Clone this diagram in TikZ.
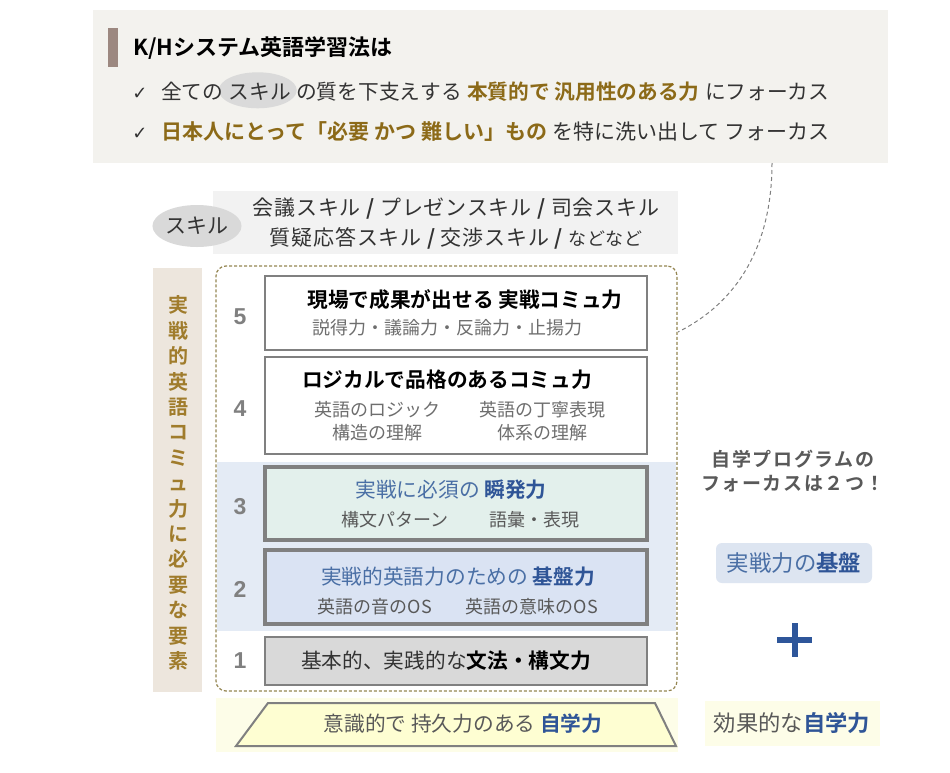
\documentclass[tikz,border=0pt]{standalone}
\usepackage{fontspec}
\setmainfont{Noto Sans CJK JP}[BoldFont={Noto Sans CJK JP Bold}]
\newfontfamily\numfont{Liberation Sans}
\newfontfamily\dv{DejaVu Sans}
\usetikzlibrary{shapes.geometric,calc}
\definecolor{topbg}{HTML}{F3F2EE}
\definecolor{barc}{HTML}{9C8880}
\definecolor{gold}{HTML}{8C6A18}
\definecolor{vgold}{HTML}{A07C2C}
\definecolor{vbg}{HTML}{EDE6DD}
\definecolor{ellg}{HTML}{DADADA}
\definecolor{skbg}{HTML}{F2F2F2}
\definecolor{dashc}{HTML}{958652}
\definecolor{band}{HTML}{E4EBF5}
\definecolor{boxb}{HTML}{808080}
\definecolor{mint}{HTML}{E3F0EC}
\definecolor{lblue}{HTML}{DAE3F3}
\definecolor{lgray}{HTML}{D9D9D9}
\definecolor{bluet}{HTML}{4A6FA5}
\definecolor{dblue}{HTML}{2F5597}
\definecolor{ybg}{HTML}{FDFDE8}
\definecolor{yfill}{HTML}{FEFED2}
\definecolor{txt}{HTML}{333333}
\definecolor{gtxt}{HTML}{595959}
\definecolor{subg}{HTML}{6E6E6E}
\definecolor{rbg}{HTML}{DDE5F1}
\definecolor{plusc}{HTML}{2E569A}
\pgfdeclarelayer{bg}\pgfdeclarelayer{mid}\pgfsetlayers{bg,mid,main}
\newcommand{\fz}{\fontsize{20.7}{25}\selectfont}
\tikzset{
  t/.style={inner sep=0pt, text=txt, font=\fz},
  lvl/.style={draw=boxb, line width=2.5pt},
  lvlb/.style={draw=boxb, line width=3.5pt},
  num/.style={inner sep=0pt, text=boxb, font=\numfont\bfseries\fontsize{23}{26}\selectfont},
  ttl/.style={inner sep=0pt, font=\bfseries\fz, text=black},
  sub/.style={inner sep=0pt, font=\fontsize{18}{23}\selectfont, text=subg, align=center},
  chk/.style={inner sep=0pt, anchor=base, text=txt, font=\dv\fontsize{18}{20}\selectfont},
}
\begin{document}
\begin{tikzpicture}[x=1pt,y=-1pt]
\useasboundingbox (0,0) rectangle (950,772);
% top box
\begin{pgfonlayer}{bg}
\fill[white] (0,0) rectangle (950,772);
\fill[topbg] (93,10) rectangle (888,163);
\fill[barc] (108,28) rectangle (118,67);
\end{pgfonlayer}
\coordinate (tboxs) at (772,163);
\node[inner sep=0pt, anchor=west, font=\bfseries\fontsize{22}{26}\selectfont, text=black] (title) at (133,48) {K/Hシステム英語学習法は};
% line 1
\node[chk] (ck1) at (140,99) {✓};
\node[t, anchor=base west] (l1a) at (161,99) {全ての};
\node[t, anchor=base west, xshift=5] (l1s) at (l1a.base east) {スキル};
\node[t, anchor=base west, xshift=5] (l1b) at (l1s.base east) {の質を下支えする};
\node[t, anchor=base west, xshift=5, text=gold, font=\bfseries\fz] (l1c) at (l1b.base east) {本質的で 汎用性のある力};
\node[t, anchor=base west, xshift=5] (l1d) at (l1c.base east) {にフォーカス};
\begin{pgfonlayer}{mid}
\node[ellipse, fill=ellg, minimum width=78pt, minimum height=36pt, inner sep=0pt] (l1e) at ($(l1s.center)+(-2,-1)$) {};
\end{pgfonlayer}
% line 2
\node[chk] (ck2) at (140,139) {✓};
\node[t, anchor=base west, text=gold, font=\bfseries\fontsize{21}{25}\selectfont] (l2a) at (161,139) {日本人にとって「必要 かつ 難しい」もの};
\node[t, anchor=base west, xshift=5, font=\fontsize{21}{25}\selectfont] (l2b) at (l2a.base east) {を特に洗い出して フォーカス};
% skills
\begin{pgfonlayer}{bg}
\fill[skbg] (213,191) rectangle (678,254);
\end{pgfonlayer}
\node[ellipse, fill=lgray, minimum width=82pt, minimum height=42pt, inner sep=0pt, text=txt, font=\fontsize{21}{25}\selectfont] (skill) at (197,226) {スキル};
\node[t, anchor=center, font=\fontsize{21}{25}\selectfont\addfontfeature{LetterSpace=4}] (sk1) at (456,209) {会議スキル {\bfseries /} プレゼンスキル {\bfseries /} 司会スキル};
\node[t, anchor=center, font=\fontsize{21}{25}\selectfont\addfontfeature{LetterSpace=4}] (sk2) at (456,238) {質疑応答スキル {\bfseries /} 交渉スキル {\bfseries /} {\fontsize{18}{20}\selectfont などなど}};
% vertical label
\fill[vbg] (153,268) rectangle (202,692);
\node[inner sep=0pt, align=center, text=vgold, font=\bfseries\fontsize{20}{25.4}\selectfont] (vlab) at (178,483) {実\\戦\\的\\英\\語\\コ\\ミ\\ュ\\力\\に\\必\\要\\な\\要\\素};
% dashed container
\node[draw=dashc, dashed, dash pattern=on 3pt off 2pt, line width=1.2pt, rounded corners=10pt, fill=white, minimum width=461pt, minimum height=425pt, inner sep=0pt] (cont) at (446.5,478.5) {};
\fill[band] (217,462) rectangle (676,631);
% level 5
\node[lvl, fill=white, minimum width=382pt, minimum height=74pt, inner sep=0pt] (b5) at (456,313) {};
\node[num] (n5) at (240,317) {5};
\node[ttl] (b5t) at (465,300) {現場で成果が出せる 実戦コミュ力};
\node[sub] (b5s) at (447,328) {説得力・議論力・反論力・止揚力};
% level 4
\node[lvl, fill=white, minimum width=382pt, minimum height=97pt, inner sep=0pt] (b4) at (456,405.5) {};
\node[num] (n4) at (240,409) {4};
\node[ttl] (b4t) at (447,380) {ロジカルで品格のあるコミュ力};
\node[sub, font=\fontsize{18}{23}\selectfont] (b4a) at (377,421.5) {英語のロジック\\構造の理解};
\node[sub, font=\fontsize{18}{23}\selectfont] (b4b) at (542,421.5) {英語の丁寧表現\\体系の理解};
% level 3
\node[lvlb, fill=mint, minimum width=382pt, minimum height=73pt, inner sep=0pt] (b3) at (456,503.5) {};
\node[num] (n3) at (240,507) {3};
\node[inner sep=0pt, text=bluet, font=\fz] (b3t) at (451,490) {実戦に必須の {\bfseries\color{dblue}瞬発力}};
\node[sub, text=gtxt] (b3a) at (395,520) {構文パターン};
\node[sub, text=gtxt] (b3b) at (534,520) {語彙・表現};
% level 2
\node[lvlb, fill=lblue, minimum width=382pt, minimum height=74pt, inner sep=0pt] (b2) at (456,587) {};
\node[num] (n2) at (240,589) {2};
\node[inner sep=0pt, text=bluet, font=\fz] (b2t) at (458,577) {実戦的英語力のための {\bfseries\color{dblue}基盤力}};
\node[sub, text=gtxt] (b2a) at (375,607) {英語の音のOS};
\node[sub, text=gtxt] (b2b) at (532,607) {英語の意味のOS};
% level 1
\node[lvl, fill=lgray, minimum width=382pt, minimum height=48pt, inner sep=0pt] (b1) at (456,661) {};
\node[num] (n1) at (240,661) {1};
\node[inner sep=0pt, text=txt, font=\fz] (b1t) at (446,661) {基本的、実践的な{\bfseries\color{black}文法・構文力}};
% bottom
\fill[ybg] (216,698) rectangle (678,752);
\draw[boxb, line width=2pt, fill=yfill, line join=miter] (268,703) -- (655,703) -- (676,746) -- (236,746) -- cycle;
\node[inner sep=0pt, text=gtxt, font=\fz] (trapt) at (463,724) {意識的で 持久力のある {\bfseries\color{dblue}自学力}};
% right side
\node[inner sep=0pt, align=center, text=gtxt, font=\bfseries\fontsize{19}{24}\selectfont\addfontfeature{LetterSpace=8}] (focus) at (793,471) {自学プログラムの\\フォーカスは２つ！};
\node[fill=rbg, rounded corners=6pt, minimum width=156pt, minimum height=40pt, inner sep=0pt, text=bluet, font=\fontsize{22.4}{26}\selectfont] (base) at (794,563) {実戦力の{\bfseries\color{dblue}基盤}};
\coordinate (plus) at (794.5,640);
\fill[plusc] ($(plus)+(-17.5,-3)$) rectangle ($(plus)+(17.5,3)$);
\fill[plusc] ($(plus)+(-3,-17)$) rectangle ($(plus)+(3,17)$);
\node[fill=ybg, minimum width=175pt, minimum height=45pt, inner sep=0pt, text=gtxt, font=\fontsize{22.3}{26}\selectfont] (self) at (792,723) {効果的な{\bfseries\color{dblue}自学力}};
% connector
\coordinate (ce) at (678,332);
\draw[boxb, dashed, dash pattern=on 4pt off 3pt, line width=1pt] (tboxs) .. controls (772,240) and (742,300) .. (ce);
\end{tikzpicture}
\end{document}
